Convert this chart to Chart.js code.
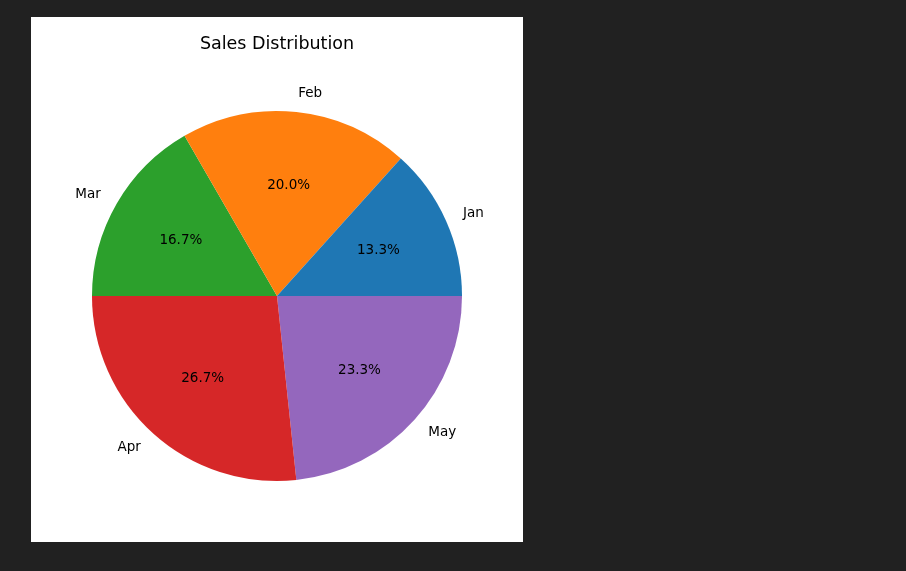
<!DOCTYPE html>
<html><head><meta charset="utf-8">
<script src="https://cdn.jsdelivr.net/npm/chart.js@4"></script>
<style>
html,body{margin:0;padding:0;background:#212121;width:906px;height:571px;overflow:hidden}
#box{position:absolute;left:31px;top:17px;width:492px;height:525px;background:#fff}
</style></head><body>
<div id="box"><canvas id="c" width="492" height="525"></canvas></div>
<script>
const categories = ["Jan","Feb","Mar","Apr","May"];
const values = [4,6,5,8,7];
const colors = ["#1f77b4","#ff7f0e","#2ca02c","#d62728","#9467bd"];
const chartTitle = "Sales Distribution";

// matplotlib draws counterclockwise from east; Chart.js clockwise -> reverse order
const rl = categories.slice().reverse(), rv = values.slice().reverse(), rc = colors.slice().reverse();
const total = values.reduce((a,b)=>a+b,0);

const textPlugin = {
  id:'txt',
  afterDatasetsDraw(chart){
    const ctx = chart.ctx;
    const meta = chart.getDatasetMeta(0);
    ctx.save();
    ctx.fillStyle = '#000';
    ctx.textAlign='center'; ctx.textBaseline='middle';
    meta.data.forEach((arc,i)=>{
      const p = arc.getProps(['x','y','startAngle','endAngle','outerRadius'],true);
      const a = (p.startAngle+p.endAngle)/2;
      ctx.font = '13.5px "DejaVu Sans"';
      const r1 = p.outerRadius*0.6;
      ctx.fillText((rv[i]/total*100).toFixed(1)+'%', p.x+Math.cos(a)*r1, p.y+Math.sin(a)*r1);
      const r2 = p.outerRadius*1.1;
      const lx = p.x+Math.cos(a)*r2, ly = p.y+Math.sin(a)*r2;
      ctx.textAlign = Math.cos(a) >= 0 ? 'left' : 'right';
      ctx.fillText(rl[i], lx, ly);
      ctx.textAlign='center';
    });
    ctx.font = '17.5px "DejaVu Sans"';
    ctx.fillText(chartTitle, 246, 27);
    ctx.restore();
  }
};

new Chart(document.getElementById('c'), {
  type:'pie',
  data:{labels:rl, datasets:[{data:rv, backgroundColor:rc, borderWidth:0}]},
  options:{
    responsive:false, animation:false, rotation:90,
    layout:{padding:{top:94,bottom:61,left:61,right:61}},
    plugins:{legend:{display:false}, tooltip:{enabled:false}}
  },
  plugins:[textPlugin]
});
</script></body></html>
